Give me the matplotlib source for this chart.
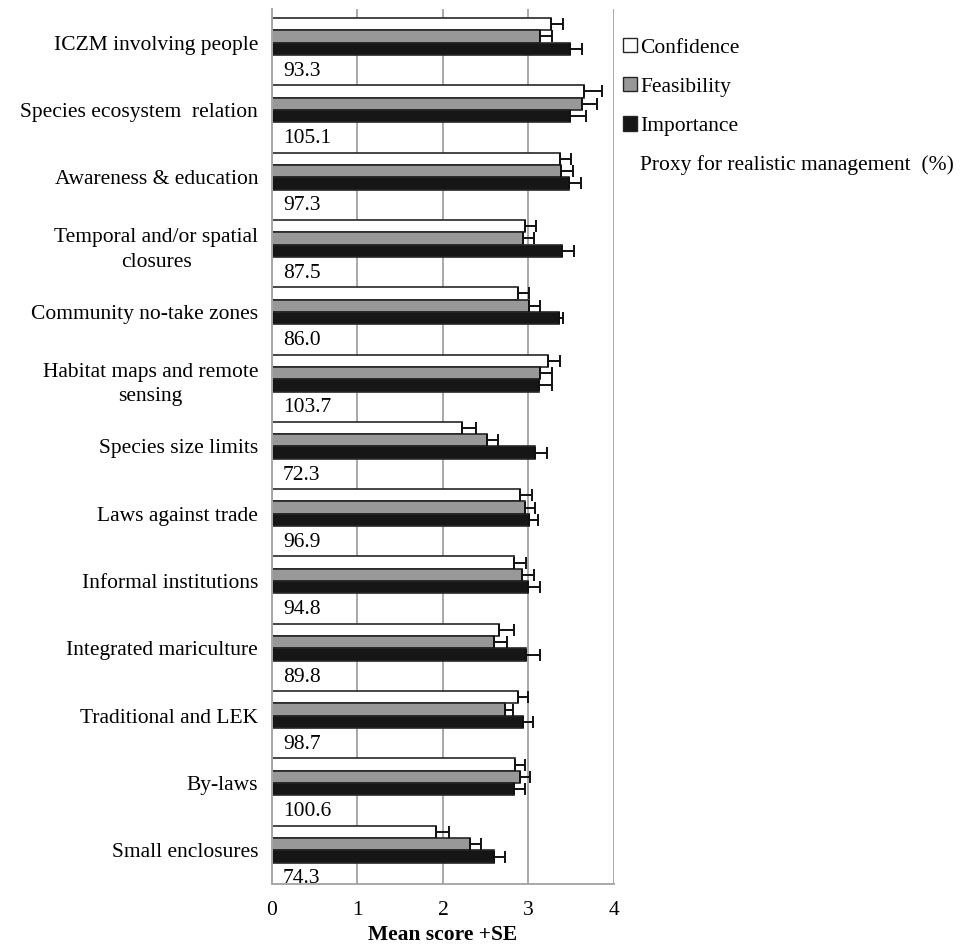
import matplotlib
matplotlib.use("Agg")
import matplotlib.pyplot as plt
from matplotlib.patches import Patch
import numpy as np

plt.rcParams['font.family'] = ['Liberation Serif', 'DejaVu Serif']

categories = [
    "ICZM involving people",
    "Species ecosystem  relation",
    "Awareness & education",
    "Temporal and/or spatial\nclosures",
    "Community no-take zones",
    "Habitat maps and remote\nsensing",
    "Species size limits",
    "Laws against trade",
    "Informal institutions",
    "Integrated mariculture",
    "Traditional and LEK",
    "By-laws",
    "Small enclosures",
]
confidence = [3.26, 3.65, 3.37, 2.96, 2.88, 3.23, 2.22, 2.90, 2.83, 2.66, 2.88, 2.84, 1.92]
confidence_se = [0.14, 0.21, 0.13, 0.13, 0.13, 0.14, 0.17, 0.14, 0.14, 0.17, 0.11, 0.12, 0.15]
feasibility = [3.13, 3.63, 3.38, 2.94, 3.01, 3.13, 2.51, 2.96, 2.92, 2.60, 2.72, 2.90, 2.31]
feasibility_se = [0.15, 0.17, 0.14, 0.13, 0.12, 0.15, 0.13, 0.12, 0.14, 0.15, 0.10, 0.12, 0.14]
importance = [3.49, 3.48, 3.47, 3.39, 3.36, 3.12, 3.08, 3.01, 2.99, 2.97, 2.93, 2.83, 2.60]
importance_se = [0.13, 0.19, 0.14, 0.14, 0.04, 0.16, 0.14, 0.10, 0.14, 0.17, 0.12, 0.13, 0.13]
proxy = ["93.3", "105.1", "97.3", "87.5", "86.0", "103.7", "72.3", "96.9", "94.8", "89.8", "98.7", "100.6", "74.3"]

series = [
    ("Confidence", confidence, confidence_se, "#ffffff"),
    ("Feasibility", feasibility, feasibility_se, "#989898"),
    ("Importance", importance, importance_se, "#161616"),
]

fig = plt.figure(figsize=(9.79, 9.48), dpi=100)
ax = fig.add_axes([272/979, 1-884/948, (614-272)/979, (884-9)/948])

y = np.arange(len(categories))
h = 0.183
offsets = [-1.5*h, -0.5*h, 0.5*h]
for (name, vals, se, col), off in zip(series, offsets):
    ax.barh(y + off, vals, height=h, color=col, edgecolor="#262626", linewidth=1.2, zorder=3)
    ax.errorbar(vals, y + off, xerr=[np.zeros(len(vals)), se], fmt="none",
                ecolor="#111111", elinewidth=1.4, capsize=4.5, capthick=1.4, zorder=4)

for yi, p in zip(y, proxy):
    ax.text(0.13, yi + 0.425, p, fontsize=15.5, ha="left", va="center", zorder=2)

ax.set_xlim(0, 4)
ax.set_ylim(12.5, -0.5)
ax.set_xticks([0, 1, 2, 3, 4])
ax.set_xticklabels(["0", "1", "2", "3", "4"], fontsize=15.5)
ax.set_yticks(y)
ax.set_yticklabels(categories, fontsize=15.5, multialignment="center", linespacing=1.4)
ax.tick_params(axis="both", length=0)
ax.tick_params(axis="y", pad=10)
ax.tick_params(axis="x", pad=12)
ax.xaxis.grid(True, color="#a8a8a8", linewidth=1.4, zorder=0)
ax.set_axisbelow(True)
for s in ["top", "right"]:
    ax.spines[s].set_visible(False)
for s in ["left", "bottom"]:
    ax.spines[s].set_color("#a8a8a8")
    ax.spines[s].set_linewidth(1.4)
    ax.spines[s].set_zorder(5)
ax.set_xlabel("Mean score +SE", fontsize=15.5, fontweight="bold", labelpad=4)

handles = [Patch(facecolor=c, edgecolor="#262626", linewidth=1.0) for _, _, _, c in series]
handles.append(Patch(facecolor="none", edgecolor="none"))
labels = [s[0] for s in series] + ["Proxy for realistic management  (%)"]
fig.legend(handles, labels, loc="upper left", bbox_to_anchor=(623/979, 1-38/948),
           frameon=False, fontsize=15.5, handlelength=0.65, handleheight=0.65,
           handletextpad=0.15, labelspacing=0.9, borderaxespad=0, borderpad=0)

fig.savefig("out.png", dpi=100)
